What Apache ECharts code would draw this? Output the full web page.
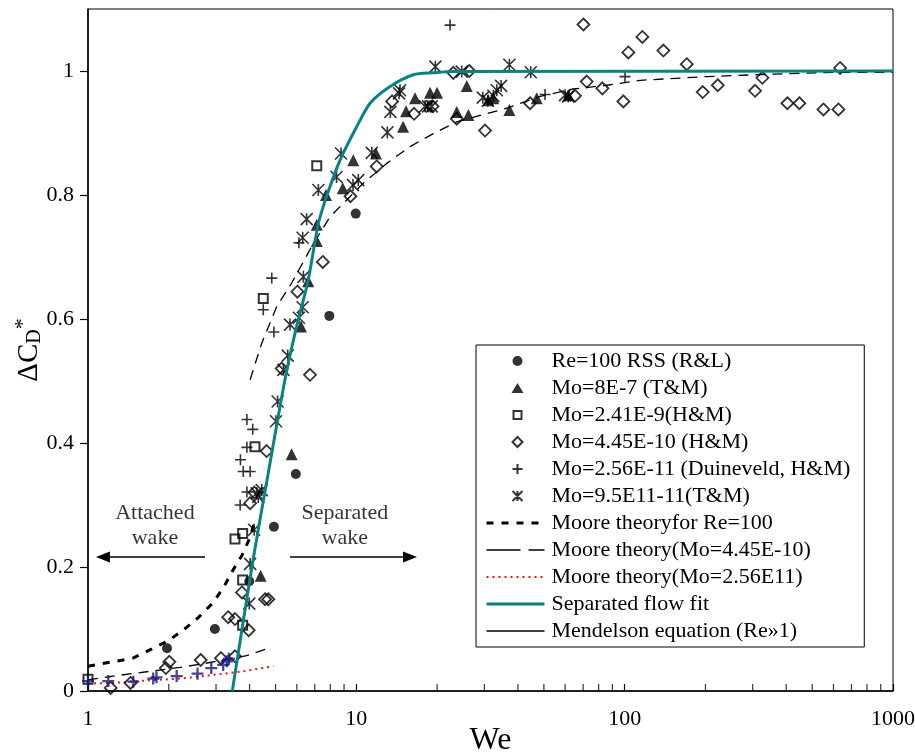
<!DOCTYPE html>
<html>
<head>
<meta charset="utf-8">
<script src="https://cdn.jsdelivr.net/npm/echarts@6/dist/echarts.min.js"></script>
<style>
  html, body { margin: 0; padding: 0; background: #fff; }
  #chart { width: 915px; height: 753px; }
</style>
</head>
<body>
<div id="chart"></div>
<script>
// Axis ticks
const xMajorTicks = [1, 10, 100, 1000];
const xMinorTicks = [2, 3, 4, 5, 6, 7, 8, 9, 20, 30, 40, 50, 60, 70, 80, 90, 200, 300, 400, 500, 600, 700, 800, 900];
const yTicks = [0, 0.2, 0.4, 0.6, 0.8, 1];

// Measured data: [We, ΔCD*]
const reRSS = [[1.97, 0.069], [2.97, 0.10], [3.99, 0.177], [4.93, 0.265], [5.95, 0.350], [7.93, 0.605], [9.95, 0.770]];

const mo8e7 = [[4.40, 0.186], [5.74, 0.382], [6.22, 0.588], [6.62, 0.661], [7.12, 0.726], [7.12, 0.752], [7.71, 0.800],
  [8.90, 0.811], [9.74, 0.856], [11.84, 0.867], [14.93, 0.910], [15.32, 0.935], [16.55, 0.956], [18.83, 0.965],
  [19.99, 0.965], [23.67, 0.934], [25.79, 0.976], [26.15, 0.929], [31.05, 0.953], [32.41, 0.956], [37.18, 0.937],
  [47.02, 0.956], [61.7, 0.961]];

const mo241e9 = [[1.0, 0.019], [3.53, 0.245], [3.77, 0.254], [3.77, 0.179], [3.77, 0.106], [4.19, 0.394], [4.50, 0.633], [7.12, 0.847]];

const mo445e10 = [[1.215, 0.005], [1.44, 0.013], [1.95, 0.037], [2.01, 0.047], [2.63, 0.050], [3.13, 0.053], [3.53, 0.056],
  [3.33, 0.119], [3.53, 0.116], [3.75, 0.159], [3.97, 0.098], [4.57, 0.148], [4.70, 0.148], [4.63, 0.387], [4.02, 0.303],
  [4.17, 0.320], [5.27, 0.520], [6.72, 0.510], [6.03, 0.644], [7.50, 0.692], [9.51, 0.798], [11.91, 0.846], [13.59, 0.951],
  [16.41, 0.931], [19.23, 0.943], [22.99, 0.997], [26.37, 1.0], [23.67, 0.923], [30.18, 0.904], [44.4, 0.948], [65.3, 0.960],
  [70.2, 1.075], [72.2, 0.983], [82.6, 0.972], [98.9, 0.951], [103.2, 1.030], [116.4, 1.055], [139.4, 1.033], [170.4, 1.011],
  [195.4, 0.966], [222.3, 0.977], [306.2, 0.968], [326.1, 0.989], [404.1, 0.948], [447.9, 0.948], [550.4, 0.938],
  [626.0, 0.938], [635.1, 1.005]];

const mo256e11 = [[3.69, 0.300], [3.91, 0.321], [3.79, 0.354], [4.02, 0.354], [3.70, 0.373], [3.91, 0.393], [3.91, 0.438],
  [4.11, 0.422], [4.50, 0.615], [4.93, 0.579], [4.84, 0.666], [6.11, 0.723], [22.35, 1.074], [50.5, 0.962], [100.3, 0.991]];

const mo256e11Low = [[1.0, 0.016], [1.19, 0.016], [1.475, 0.015], [1.75, 0.020], [1.80, 0.022], [2.14, 0.024], [2.56, 0.028],
  [2.88, 0.037], [3.19, 0.042], [3.29, 0.048], [3.35, 0.052]];

const mo95e11 = [[3.99, 0.141], [4.02, 0.205], [4.16, 0.260], [4.31, 0.313], [4.25, 0.319], [4.44, 0.324], [5.02, 0.435],
  [5.09, 0.467], [5.35, 0.518], [5.55, 0.541], [5.66, 0.591], [6.11, 0.602], [6.31, 0.619], [6.35, 0.668], [6.31, 0.731],
  [6.53, 0.761], [7.22, 0.808], [8.44, 0.829], [8.77, 0.867], [9.72, 0.816], [10.17, 0.824], [11.42, 0.868], [13.05, 0.901],
  [13.39, 0.934], [14.43, 0.964], [14.55, 0.969], [18.03, 0.943], [18.50, 0.943], [19.10, 0.943], [19.70, 1.007],
  [24.71, 0.999], [29.59, 0.957], [30.89, 0.952], [32.41, 0.960], [33.38, 0.969], [34.63, 0.976], [37.18, 1.010],
  [44.67, 0.998], [59.96, 0.961], [61.67, 0.959]];

// Model curves
const mooreRe100 = [[1, 0.040], [1.47, 0.053], [1.73, 0.068], [1.99, 0.081], [2.26, 0.098], [2.57, 0.118], [2.92, 0.142],
  [3.19, 0.166], [3.47, 0.195], [3.75, 0.219], [4.02, 0.248], [4.19, 0.276]];

const mooreMo445Low = [[1, 0.018], [1.24, 0.024], [1.52, 0.029], [2.2, 0.038], [2.69, 0.044], [3.19, 0.050], [3.9, 0.057], [4.7, 0.069]];
const mooreMo445High = [[4.02, 0.502], [4.44, 0.561], [5.05, 0.620], [5.74, 0.658], [6.82, 0.717], [7.98, 0.765],
  [10.62, 0.819], [12.98, 0.851], [15.85, 0.878], [19.36, 0.899], [23.67, 0.918], [36.35, 0.940], [48.4, 0.959],
  [64.2, 0.971], [85.8, 0.977], [114.1, 0.985], [202.3, 0.991], [357.4, 0.995], [635, 0.998], [1000, 0.998]];

const mooreMo256 = [[1, 0.012], [1.24, 0.013], [1.66, 0.017], [2.2, 0.020], [2.93, 0.026], [3.69, 0.031], [4.91, 0.040]];

const separatedFit = [[3.45, 0], [4.12, 0.211], [4.69, 0.35], [5.42, 0.502], [5.99, 0.588], [6.62, 0.663], [7.22, 0.754],
  [7.82, 0.803], [8.69, 0.856], [10.03, 0.910], [11.25, 0.948], [13.36, 0.975], [16.31, 0.994], [19.36, 0.997],
  [22.99, 0.999], [1000, 1.0]];

const mendelson = [];

// Region annotations
const wakeLabels = [[1.776, 0.267, 'Attached\nwake'], [9.06, 0.267, 'Separated\nwake']];
const attachedArrow = [[2.73, 0.216], [1.137, 0.216]];
const separatedArrow = [[5.66, 0.216], [15.85, 0.216]];

const SERIF = '"Liberation Serif", "Times New Roman", serif';
const PLUS = 'path://M5 0L5 10M0 5L10 5';
const STAR = 'path://M0 0L10 10M10 0L0 10M5 0L5 10';
const CLEAR = 'rgba(0,0,0,0)';

// Legend marker glyphs sit inside a 58x10 box (the box corners are pinned by
// zero-length segments so the glyph keeps its own size).
function legendGlyph(d) { return 'path://M0 5L0.01 5' + d + 'M57.99 5L58 5'; }
const LEG_CIRCLE = legendGlyph('M26 5A5 5 0 1 0 36 5A5 5 0 1 0 26 5Z');
const LEG_TRIANGLE = legendGlyph('M25 10L31 0L37 10Z');
const LEG_SQUARE = legendGlyph('M27 1L35 1L35 9L27 9Z');
const LEG_DIAMOND = legendGlyph('M31 0L36 5L31 10L26 5Z');
const LEG_PLUS = legendGlyph('M31 0L31 10M26 5L36 5');
const LEG_STAR = legendGlyph('M26 0L36 10M36 0L26 10M31 0L31 10');

const names = {
  rss: 'Re=100 RSS (R&L)',
  m1: 'Mo=8E-7 (T&M)',
  m2: 'Mo=2.41E-9(H&M)',
  m3: 'Mo=4.45E-10 (H&M)',
  m4: 'Mo=2.56E-11 (Duineveld, H&M)',
  m5: 'Mo=9.5E11-11(T&M)',
  t1: 'Moore theoryfor Re=100',
  t2: 'Moore theory(Mo=4.45E-10)',
  t3: 'Moore theory(Mo=2.56E11)',
  fit: 'Separated flow fit',
  men: 'Mendelson equation (Re\u00bb1)'
};

const chart = echarts.init(document.getElementById('chart'), null, { renderer: 'canvas' });

function withGap(a, b) { return a.concat([[null, null]], b); }

// Line series: legend shows the stroke only
function curve(name, data, lineStyle, extra) {
  return Object.assign({
    name: name, type: 'line', data: data, symbol: 'none', z: 2,
    lineStyle: lineStyle,
    itemStyle: { color: CLEAR, borderColor: CLEAR, borderWidth: 0 }
  }, extra || {});
}

const option = {
  animation: false,
  backgroundColor: '#fff',
  textStyle: { fontFamily: SERIF },
  grid: {
    left: 88, right: 22, top: 9, bottom: 62,
    outerBoundsMode: 'none', containLabel: false,
    show: true, borderColor: '#000', borderWidth: 1
  },
  xAxis: {
    type: 'log', logBase: 10, min: 1, max: 1000, interval: 1,
    name: 'We', nameLocation: 'middle', nameGap: 34, nameMoveOverlap: false,
    nameTextStyle: { fontFamily: SERIF, fontSize: 32, color: '#000' },
    axisLine: { lineStyle: { color: '#000', width: 1.5 } },
    axisTick: { inside: true, length: 7, lineStyle: { color: '#000', width: 1.2 } },
    axisLabel: { fontFamily: SERIF, fontSize: 22, color: '#000', margin: 17, formatter: v => String(v) },
    splitLine: { show: false }
  },
  yAxis: {
    type: 'value', min: 0, max: 1.1,
    name: 'ΔC{sub|D}{sup|*}', nameLocation: 'middle', nameGap: 42, nameRotate: 90, nameMoveOverlap: false,
    nameTextStyle: {
      fontFamily: SERIF, fontSize: 29, color: '#000',
      rich: {
        sub: { fontFamily: SERIF, fontSize: 20, color: '#000', padding: [12, 0, 0, 0] },
        sup: { fontFamily: SERIF, fontSize: 22, color: '#000', padding: [0, 0, 12, 0] }
      }
    },
    axisLine: { lineStyle: { color: '#000', width: 1.5 } },
    axisTick: { inside: false, length: 8, lineStyle: { color: '#000', width: 1.2 }, customValues: yTicks },
    axisLabel: { fontFamily: SERIF, fontSize: 22, color: '#000', margin: 14, customValues: yTicks },
    splitLine: { show: false }
  },
  legend: {
    data: [
      { name: names.rss, icon: LEG_CIRCLE },
      { name: names.m1, icon: LEG_TRIANGLE },
      { name: names.m2, icon: LEG_SQUARE },
      { name: names.m3, icon: LEG_DIAMOND },
      { name: names.m4, icon: LEG_PLUS },
      { name: names.m5, icon: LEG_STAR },
      { name: names.t1, lineStyle: { width: 3, type: [7, 8] } },
      { name: names.t2, lineStyle: { width: 1.3, type: [34, 8] } },
      { name: names.t3, lineStyle: { width: 2, type: [2, 4] } },
      { name: names.fit, lineStyle: { width: 3 } },
      { name: names.men, lineStyle: { width: 1.3 } }
    ],
    orient: 'vertical', left: 476, top: 345,
    padding: [5, 14, 5, 8], itemGap: 5, itemWidth: 58, itemHeight: 10,
    borderColor: '#000', borderWidth: 1, backgroundColor: '#fff',
    textStyle: { fontFamily: SERIF, fontSize: 22, lineHeight: 22, color: '#000', padding: [0, 0, 0, 2] },
    selectedMode: false
  },
  series: [
    {
      name: 'minor ticks', type: 'scatter', silent: true, z: 1,
      data: xMinorTicks.map(v => [v, 0]),
      symbol: 'rect', symbolSize: [1.2, 7], symbolOffset: [0, -3.5],
      itemStyle: { color: '#000' }
    },
    curve(names.t1, mooreRe100, { color: '#000', width: 3, type: [7, 8] }),
    curve(names.t2, withGap(mooreMo445Low, mooreMo445High), { color: '#000', width: 1.3, type: [10, 7] }, { connectNulls: false }),
    curve(names.t3, mooreMo256, { color: '#e8140c', width: 2, type: [2, 4] }),
    curve(names.men, mendelson, { color: '#000', width: 1.3 }),
    {
      name: names.rss, type: 'scatter', data: reRSS, symbol: 'circle', symbolSize: 10, z: 3,
      itemStyle: { color: '#000' }
    },
    {
      name: names.m1, type: 'scatter', data: mo8e7, symbol: 'triangle', symbolSize: 12, z: 3,
      itemStyle: { color: '#000' }
    },
    {
      name: names.m2, type: 'scatter', data: mo241e9, symbol: 'rect', symbolSize: 9, z: 3,
      itemStyle: { color: 'none', borderColor: '#000', borderWidth: 2 }
    },
    {
      name: names.m3, type: 'scatter', data: mo445e10, symbol: 'diamond', symbolSize: 12, z: 3,
      itemStyle: { color: 'none', borderColor: '#000', borderWidth: 1.8 }
    },
    {
      name: names.m4, type: 'scatter', data: mo256e11, symbol: PLUS, symbolSize: 11, z: 3,
      itemStyle: { color: 'none', borderColor: '#000', borderWidth: 1.6 }
    },
    {
      name: 'Mo=2.56E-11 low We', type: 'scatter', data: mo256e11Low, symbol: PLUS, symbolSize: 12, z: 4,
      itemStyle: { color: 'none', borderColor: '#16167a', borderWidth: 2.3 }
    },
    {
      name: names.m5, type: 'scatter', data: mo95e11, symbol: STAR, symbolSize: 12, z: 3,
      itemStyle: { color: 'none', borderColor: '#000', borderWidth: 1.6 }
    },
    curve(names.fit, separatedFit, { color: '#0a8282', width: 3 }, { smooth: 0.25, z: 5 }),
    {
      name: 'wake regions', type: 'scatter', silent: true, z: 6,
      data: wakeLabels.map(d => ({ value: [d[0], d[1]], label: { formatter: d[2] } })),
      symbolSize: 0,
      label: { show: true, position: 'inside', fontFamily: SERIF, fontSize: 22, lineHeight: 25, color: '#000', align: 'center' },
      markLine: {
        silent: true, symbol: ['none', 'triangle'], symbolSize: [11, 14],
        lineStyle: { color: '#000', width: 1.5, type: 'solid' },
        label: { show: false },
        data: [
          [{ coord: attachedArrow[0] }, { coord: attachedArrow[1] }],
          [{ coord: separatedArrow[0] }, { coord: separatedArrow[1] }]
        ]
      }
    }
  ]
};

chart.setOption(option);
</script>
</body>
</html>
